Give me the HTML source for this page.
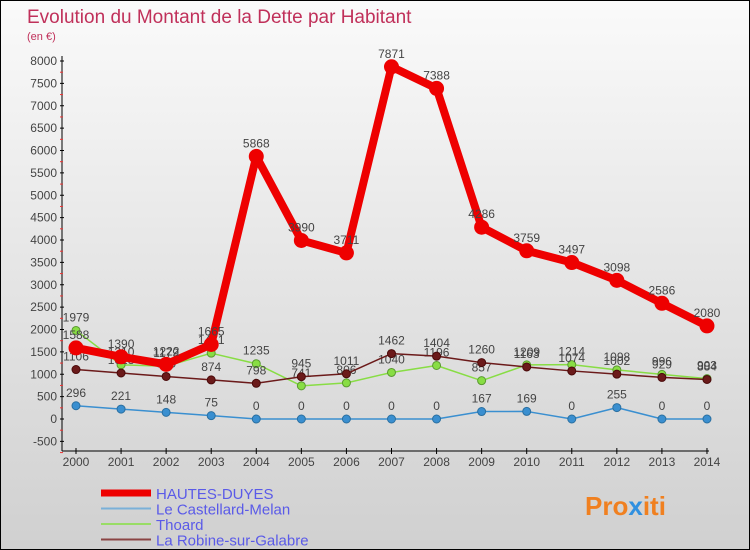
<!DOCTYPE html>
<html><head><meta charset="utf-8"><style>
body{margin:0}
#c{width:750px;height:550px;position:relative;box-sizing:border-box;border:1px solid #000;background:linear-gradient(#fafafa,#d0d0d0);overflow:hidden;font-family:"Liberation Sans",sans-serif}
</style></head><body>
<div id="c">
<svg id="s" width="748" height="548" style="position:absolute;left:0;top:0" font-family="Liberation Sans, sans-serif">
<text x="26" y="22" font-size="19" fill="#c0305a">Evolution du Montant de la Dette par Habitant</text>
<text x="26" y="39" font-size="11" fill="#c0305a">(en €)</text>
<g id="ax"></g><g id="ser"></g>
<g id="leg"></g>
<text x="584" y="514" font-size="26" font-weight="bold" fill="#f08020">Pro<tspan fill="#3090e0">x</tspan>iti</text>
</svg>
</div>
<script>
const years=["2000","2001","2002","2003","2004","2005","2006","2007","2008","2009","2010","2011","2012","2013","2014"];
const yTicks=[-500,0,500,1000,1500,2000,2500,3000,3500,4000,4500,5000,5500,6000,6500,7000,7500,8000];
const hautes=[1588,1390,1222,1665,5868,3990,3711,7871,7388,4286,3759,3497,3098,2586,2080];
const castellard=[296,221,148,75,0,0,0,0,0,167,169,0,255,0,0];
const thoard=[1979,1210,1179,1471,1235,741,806,1040,1196,857,1209,1214,1098,996,903];
const robine=[1106,1028,950,874,798,945,1011,1462,1404,1260,1163,1074,1002,929,884];
const NS="http://www.w3.org/2000/svg";
const X=i=>75+i*45.07, Y=v=>418-v*0.04475;
function mk(t,a,p){const e=document.createElementNS(NS,t);for(const k in a)e.setAttribute(k,a[k]);p.appendChild(e);return e;}
const ax=document.getElementById('ax'),ser=document.getElementById('ser'),leg=document.getElementById('leg');
let l=mk('line',{x1:61,y1:55,x2:61,y2:450,stroke:'#000'},ax);


l=mk('line',{x1:61,y1:450,x2:708,y2:450,stroke:'#000'},ax);


yTicks.forEach(v=>{const y=Y(v);
 mk('line',{x1:59,y1:y,x2:63,y2:y,stroke:'#000'},ax);
 mk('line',{x1:59,y1:y+11.2,x2:62,y2:y+11.2,stroke:'#e33'},ax);
 const t=mk('text',{x:56,y:y+4,'font-size':12,fill:'#444','text-anchor':'end'},ax);t.textContent=v;
 
 });
years.forEach((yr,i)=>{const x=X(i);
 mk('line',{x1:x,y1:447,x2:x,y2:453,stroke:'#000'},ax);
 const t=mk('text',{x:x,y:465,'font-size':12,fill:'#444','text-anchor':'middle'},ax);t.textContent=yr;
 
 });
function series(d,col,w,r,name,dark){
 const g=mk('g',{},ser);
 
 
 mk('polyline',{points:d.map((v,i)=>X(i)+','+Y(v)).join(' '),fill:'none',stroke:col,'stroke-width':w,'stroke-linejoin':'round'},g);
 d.forEach((v,i)=>{const c=mk('circle',{cx:X(i),cy:Y(v),r:r,fill:col,stroke:dark,'stroke-width':1},g);
  
  
  const t=mk('text',{x:X(i),y:Y(v)-9,'font-size':12,fill:'#444','text-anchor':'middle'},g);t.textContent=v;
  
  });
}
series(castellard,'#3a8fd0',1.5,4,'castellard-series','#2a6fa0');
series(thoard,'#88dd44',1.5,4,'thoard-series','#5a9a30');
series(robine,'#6b1a1a',1.5,4,'robine-series','#4a0a0a');
series(hautes,'#ee0000',8,7,'hautes-series','#ee0000');
const ln=[['HAUTES-DUYES','#ee0000',7],['Le Castellard-Melan','#7ab0d8',2],['Thoard','#99dd66',2],['La Robine-sur-Galabre','#8a4444',2]];
ln.forEach((e,i)=>{const y=492+i*15.5;
 const g=mk('g',{},leg);
 
 
 mk('line',{x1:100,y1:y,x2:150,y2:y,stroke:e[1],'stroke-width':e[2]},g);
 const t=mk('text',{x:155,y:y+6,'font-size':15,fill:'#5a5ae8'},g);t.textContent=e[0];});
</script>
</body></html>
